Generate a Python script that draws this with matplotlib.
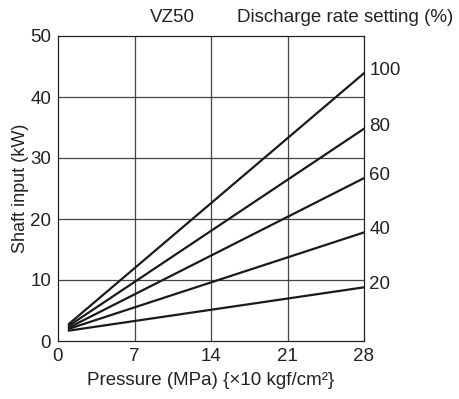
import matplotlib
matplotlib.use("Agg")
import matplotlib.pyplot as plt

plt.rcParams['font.family'] = ['Liberation Sans', 'DejaVu Sans']

x_start = 1
x_end = 28
rates = ["100", "80", "60", "40", "20"]
start_vals = [2.8, 2.5, 2.2, 2.0, 1.7]
end_vals = [43.9, 34.8, 26.7, 17.8, 8.8]
x_ticks = [0, 7, 14, 21, 28]
y_ticks = [0, 10, 20, 30, 40, 50]

FS = 13.5
TXT = '#222222'

fig = plt.figure(figsize=(4.6, 3.99), dpi=100)
ax = fig.add_axes([58/460, 1-341/399, 306/460, 305/399])
ax.set_xlim(0, 28)
ax.set_ylim(0, 50)

for t in x_ticks[1:-1]:
    ax.axvline(t, color='#444444', lw=0.9, zorder=1)
for t in y_ticks[1:-1]:
    ax.axhline(t, color='#444444', lw=0.9, zorder=1)

for r, s, e in zip(rates, start_vals, end_vals):
    ax.plot([x_start, x_end], [s, e], color='#1a1a1a', lw=1.6, zorder=3)
    ax.text(28.5, e + 0.4, r, fontsize=FS, ha='left', va='center', color=TXT, clip_on=False)

ax.set_xticks(x_ticks)
ax.set_yticks(y_ticks)
ax.set_xticklabels([str(t) for t in x_ticks])
ax.set_yticklabels([str(t) for t in y_ticks])
ax.tick_params(length=0, labelsize=FS, colors=TXT, pad=5)
for sp in ax.spines.values():
    sp.set_color('#222222')
    sp.set_linewidth(0.9)

ax.set_xlabel("Pressure (MPa) {×10 kgf/cm²}", fontsize=FS, color=TXT, labelpad=5)
ax.set_ylabel("Shaft input (kW)", fontsize=13, color=TXT, labelpad=1)
ax.text(10.5, 51.6, "VZ50", fontsize=FS, ha='center', va='bottom', color=TXT)
ax.text(16.4, 51.6, "Discharge rate setting (%)", fontsize=FS, ha='left', va='bottom', color=TXT, clip_on=False)

fig.savefig("out.png", dpi=100)
